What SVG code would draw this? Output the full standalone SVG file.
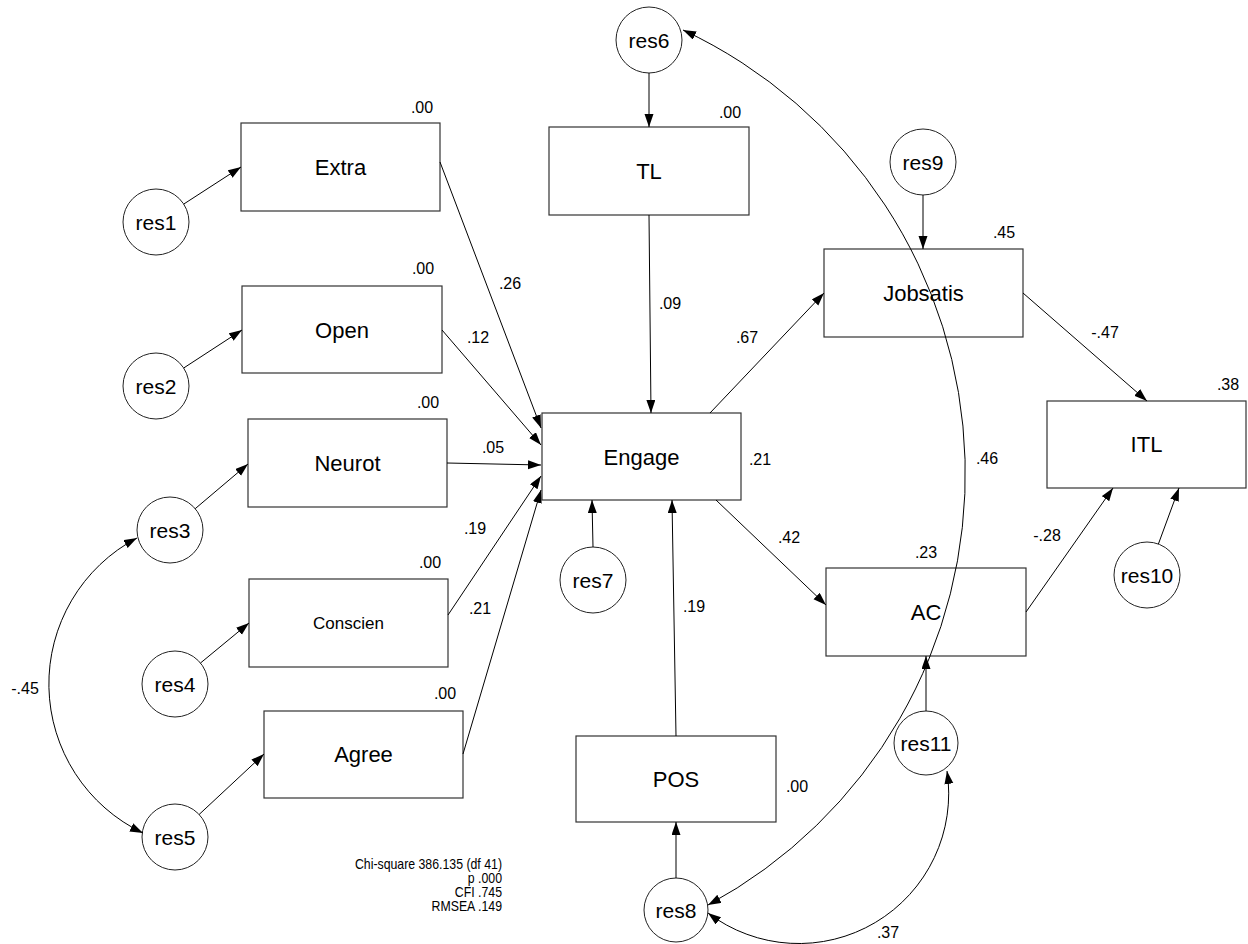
<svg xmlns="http://www.w3.org/2000/svg" width="1248" height="944" viewBox="0 0 1248 944">
  <style>
    .box { fill: #fff; stroke: #333; stroke-width: 1.2; }
    .res { fill: #fff; stroke: #222; stroke-width: 1; }
    .lbl { font-family: "Liberation Sans", Arial, sans-serif; font-size: 22px; fill: #000; text-anchor: middle; dominant-baseline: central; }
    .rl { font-size: 21px; }
    .small { font-size: 17px; }
    .coef { font-family: "Liberation Sans", Arial, sans-serif; font-size: 16px; fill: #000; text-anchor: middle; dominant-baseline: central; }
    .fit { font-family: "Liberation Sans", Arial, sans-serif; font-size: 14px; fill: #000; text-anchor: end; dominant-baseline: central; }
    .edge { fill: none; stroke: #000; stroke-width: 1; marker-end: url(#arrow); }
    .cov { fill: none; stroke: #000; stroke-width: 1; marker-start: url(#arrow); marker-end: url(#arrow); }
  </style>
  <defs>
    <marker id="arrow" markerUnits="userSpaceOnUse" markerWidth="14" markerHeight="10" refX="13" refY="4.5" orient="auto-start-reverse">
      <path d="M0,0 L13,4.5 L0,9 z" fill="#000"/>
    </marker>
  </defs>
  <rect width="1248" height="944" fill="#fff"/>

  <!-- observed variables -->
  <g id="extra"><rect class="box" x="241" y="123" width="199" height="88"/><text class="lbl" x="340.5" y="167">Extra</text><text class="coef" x="422" y="107">.00</text></g>
  <g id="open"><rect class="box" x="242" y="286" width="200" height="87"/><text class="lbl" x="342" y="330">Open</text><text class="coef" x="423" y="268">.00</text></g>
  <g id="neurot"><rect class="box" x="248" y="419" width="199" height="88"/><text class="lbl" x="347.5" y="463">Neurot</text><text class="coef" x="428" y="402">.00</text></g>
  <g id="conscien"><rect class="box" x="249" y="579" width="199" height="88"/><text class="lbl small" x="348.5" y="623">Conscien</text><text class="coef" x="430" y="562">.00</text></g>
  <g id="agree"><rect class="box" x="264" y="711" width="199" height="87"/><text class="lbl" x="363.5" y="754">Agree</text><text class="coef" x="445" y="693">.00</text></g>
  <g id="tl"><rect class="box" x="549" y="127" width="200" height="88"/><text class="lbl" x="649" y="171">TL</text><text class="coef" x="730" y="112">.00</text></g>
  <g id="engage"><rect class="box" x="542" y="413" width="199" height="87"/><text class="lbl" x="641.5" y="457">Engage</text><text class="coef" x="760" y="459">.21</text></g>
  <g id="jobsatis"><rect class="box" x="824" y="249" width="199" height="88"/><text class="lbl" x="923.5" y="293">Jobsatis</text><text class="coef" x="1004" y="232">.45</text></g>
  <g id="itl"><rect class="box" x="1047" y="401" width="199" height="87"/><text class="lbl" x="1146.5" y="444">ITL</text><text class="coef" x="1228" y="384">.38</text></g>
  <g id="ac"><rect class="box" x="826" y="568" width="200" height="88"/><text class="lbl" x="926" y="612">AC</text><text class="coef" x="926" y="552">.23</text></g>
  <g id="pos"><rect class="box" x="576" y="736" width="200" height="86"/><text class="lbl" x="676" y="779">POS</text><text class="coef" x="797" y="786">.00</text></g>

  <!-- residuals -->
  <g id="res1"><circle class="res" cx="156" cy="222" r="33"/><text class="lbl rl" x="156" y="222">res1</text></g>
  <g id="res2"><circle class="res" cx="156" cy="386" r="33"/><text class="lbl rl" x="156" y="386">res2</text></g>
  <g id="res3"><circle class="res" cx="170" cy="530" r="33"/><text class="lbl rl" x="170" y="530">res3</text></g>
  <g id="res4"><circle class="res" cx="175" cy="684" r="33"/><text class="lbl rl" x="175" y="684">res4</text></g>
  <g id="res5"><circle class="res" cx="175" cy="837" r="33"/><text class="lbl rl" x="175" y="837">res5</text></g>
  <g id="res6"><circle class="res" cx="649" cy="40" r="33"/><text class="lbl rl" x="649" y="40">res6</text></g>
  <g id="res7"><circle class="res" cx="593" cy="580" r="33"/><text class="lbl rl" x="593" y="580">res7</text></g>
  <g id="res8"><circle class="res" cx="676" cy="910" r="32"/><text class="lbl rl" x="676" y="910">res8</text></g>
  <g id="res9"><circle class="res" cx="923" cy="162" r="33"/><text class="lbl rl" x="923" y="162">res9</text></g>
  <g id="res10"><circle class="res" cx="1147" cy="575" r="33"/><text class="lbl rl" x="1147" y="575">res10</text></g>
  <g id="res11"><circle class="res" cx="926" cy="743" r="32"/><text class="lbl rl" x="926" y="743">res11</text></g>

  <!-- paths, residual arrows and covariances -->
  <g id="connectors">
    <line class="edge" x1="183.7" y1="204.1" x2="241" y2="167"/>
    <line class="edge" x1="183.7" y1="368" x2="242" y2="330"/>
    <line class="edge" x1="195.2" y1="508.7" x2="248" y2="464"/>
    <line class="edge" x1="200.5" y1="663" x2="249" y2="623"/>
    <line class="edge" x1="199.1" y1="814.5" x2="264" y2="754"/>

    <line class="edge" x1="440" y1="162" x2="541" y2="428"/>
    <line class="edge" x1="442" y1="330" x2="541" y2="445"/>
    <line class="edge" x1="447" y1="463" x2="541" y2="465"/>
    <line class="edge" x1="448" y1="615" x2="541" y2="476"/>
    <line class="edge" x1="463" y1="754" x2="541" y2="490"/>

    <line class="edge" x1="649" y1="73" x2="649" y2="127"/>
    <line class="edge" x1="649" y1="215" x2="651" y2="413"/>
    <line class="edge" x1="593" y1="547" x2="592" y2="500"/>
    <line class="edge" x1="676" y1="736" x2="672" y2="500"/>
    <line class="edge" x1="676" y1="878" x2="676" y2="822"/>

    <line class="edge" x1="710" y1="413" x2="824" y2="293"/>
    <line class="edge" x1="716" y1="500" x2="826" y2="605"/>
    <line class="edge" x1="923" y1="195" x2="923" y2="249"/>
    <line class="edge" x1="1023" y1="293" x2="1147" y2="401"/>
    <line class="edge" x1="1026" y1="612" x2="1113" y2="488"/>
    <line class="edge" x1="1158.4" y1="544" x2="1179" y2="488"/>
    <line class="edge" x1="926" y1="711" x2="926" y2="656"/>

    <path class="cov" d="M137,538 A165,165 0 0 0 143,833"/>
    <path class="cov" d="M683,30 A490,490 0 0 1 708,905"/>
    <path class="cov" d="M708,913 A150,150 0 0 0 947,771"/>
  </g>

  <!-- path coefficients -->
  <g id="coefficients">
    <text class="coef" x="510" y="283">.26</text>
    <text class="coef" x="478" y="337">.12</text>
    <text class="coef" x="493" y="447">.05</text>
    <text class="coef" x="475" y="528">.19</text>
    <text class="coef" x="480" y="608">.21</text>
    <text class="coef" x="670" y="303">.09</text>
    <text class="coef" x="747" y="337">.67</text>
    <text class="coef" x="789" y="537">.42</text>
    <text class="coef" x="694" y="606">.19</text>
    <text class="coef" x="1105" y="332">-.47</text>
    <text class="coef" x="1047" y="535">-.28</text>
    <text class="coef" x="987" y="458">.46</text>
    <text class="coef" x="25" y="688">-.45</text>
    <text class="coef" x="888" y="932">.37</text>
  </g>

  <!-- fit statistics, set in a narrowed face -->
  <g id="fit" transform="translate(502,0) scale(0.88,1)">
    <text class="fit" x="0" y="864">Chi-square 386.135 (df 41)</text>
    <text class="fit" x="0" y="878">p .000</text>
    <text class="fit" x="0" y="892">CFI .745</text>
    <text class="fit" x="0" y="906">RMSEA .149</text>
  </g>
</svg>
